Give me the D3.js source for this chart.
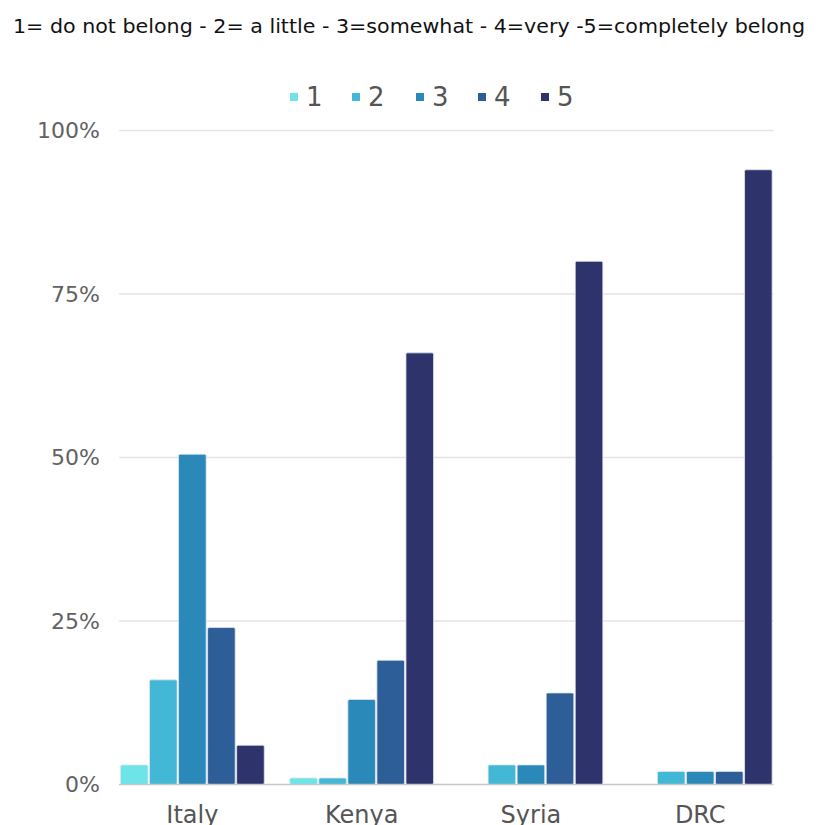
<!DOCTYPE html>
<html>
<head>
<meta charset="utf-8">
<script src="https://cdn.jsdelivr.net/npm/d3@7"></script>
<style>
  html, body { margin: 0; padding: 0; background: #fff; }
  svg { display: block; font-family: "DejaVu Sans", "Noto Sans", sans-serif; }
</style>
</head>
<body>
<svg id="chart" width="821" height="825"></svg>
<script>
// Sense of belonging by country, share of respondents per answer (1–5)
const countries = ["Italy", "Kenya", "Syria", "DRC"];
const levels = ["1", "2", "3", "4", "5"];
const level1 = [3, 1, 0, 0];
const level2 = [16, 1, 3, 2];
const level3 = [50.5, 13, 3, 2];
const level4 = [24, 19, 14, 2];
const level5 = [6, 66, 80, 94];
const yTicks = [0, 25, 50, 75, 100];
const colors = ["#6de4e8", "#42b7d6", "#2b89b9", "#2d5e97", "#2f336b"];

const seriesValues = [level1, level2, level3, level4, level5];
const rows = countries.map((c, i) => ({
  country: c,
  values: levels.map((l, j) => ({ level: l, value: seriesValues[j][i] }))
}));

const svg = d3.select("#chart");

const x0 = d3.scaleBand()
  .domain(countries)
  .range([107.7, 784.9])
  .paddingInner(0.1335)
  .paddingOuter(0.0668);

const x1 = d3.scaleBand()
  .domain(levels)
  .range([0, x0.bandwidth()])
  .padding(0.05);

const y = d3.scaleLinear().domain([0, 100]).range([784.5, 130.5]);

const gridLeft = x0(countries[0]);
const gridRight = x0(countries[countries.length - 1]) + x0.bandwidth();

// Title
svg.append("text")
  .attr("x", 409).attr("y", 33)
  .attr("text-anchor", "middle")
  .attr("font-size", 20)
  .attr("fill", "#111")
  .attr("textLength", 792)
  .attr("lengthAdjust", "spacingAndGlyphs")
  .text("1= do not belong - 2= a little - 3=somewhat - 4=very  -5=completely belong");

// Legend
const legendX = [290, 352, 416, 478, 541];
const legend = svg.append("g");
levels.forEach((l, i) => {
  legend.append("rect")
    .attr("x", legendX[i]).attr("y", 93)
    .attr("width", 8).attr("height", 8)
    .attr("fill", colors[i]);
  legend.append("text")
    .attr("x", legendX[i] + 16).attr("y", 106)
    .attr("font-size", 26)
    .attr("fill", "#555")
    .text(l);
});

// Gridlines
svg.append("g")
  .selectAll("line")
  .data(yTicks.filter(t => t > 0))
  .join("line")
  .attr("x1", gridLeft).attr("x2", gridRight)
  .attr("y1", d => y(d)).attr("y2", d => y(d))
  .attr("stroke", "#e4e4e4").attr("stroke-width", 1.5);

// Y axis labels
const yAxis = d3.axisLeft(y)
  .tickValues(yTicks)
  .tickFormat(d => d + "%")
  .tickSize(0)
  .tickPadding(0);
const yg = svg.append("g")
  .attr("transform", `translate(${gridLeft - 19},0)`)
  .call(yAxis);
yg.select(".domain").remove();
yg.selectAll("text")
  .attr("font-size", 22)
  .attr("fill", "#626262")
  .attr("font-family", "DejaVu Sans, sans-serif");

// Bars
const groups = svg.append("g")
  .selectAll("g")
  .data(rows)
  .join("g")
  .attr("transform", d => `translate(${x0(d.country)},0)`);

groups.selectAll("rect")
  .data(d => d.values.filter(v => v.value > 0))
  .join("rect")
  .attr("x", d => x1(d.level))
  .attr("y", d => y(d.value))
  .attr("width", x1.bandwidth())
  .attr("height", d => y(0) - y(d.value))
  .attr("rx", 1.5)
  .attr("fill", d => colors[levels.indexOf(d.level)])
  .attr("stroke", "#dde6f0")
  .attr("stroke-width", 0.8);

// Baseline
svg.append("line")
  .attr("x1", gridLeft).attr("x2", gridRight)
  .attr("y1", y(0)).attr("y2", y(0))
  .attr("stroke", "#c8c8c8").attr("stroke-width", 1.5);

// X axis labels
const xAxis = d3.axisBottom(x0).tickSize(0).tickPadding(0);
const xg = svg.append("g")
  .attr("transform", `translate(0,${y(0) + 16})`)
  .call(xAxis);
xg.select(".domain").remove();
xg.selectAll("text")
  .attr("font-size", 24)
  .attr("fill", "#555")
  .attr("dy", "0.95em")
  .attr("font-family", "DejaVu Sans, sans-serif");
</script>
</body>
</html>
